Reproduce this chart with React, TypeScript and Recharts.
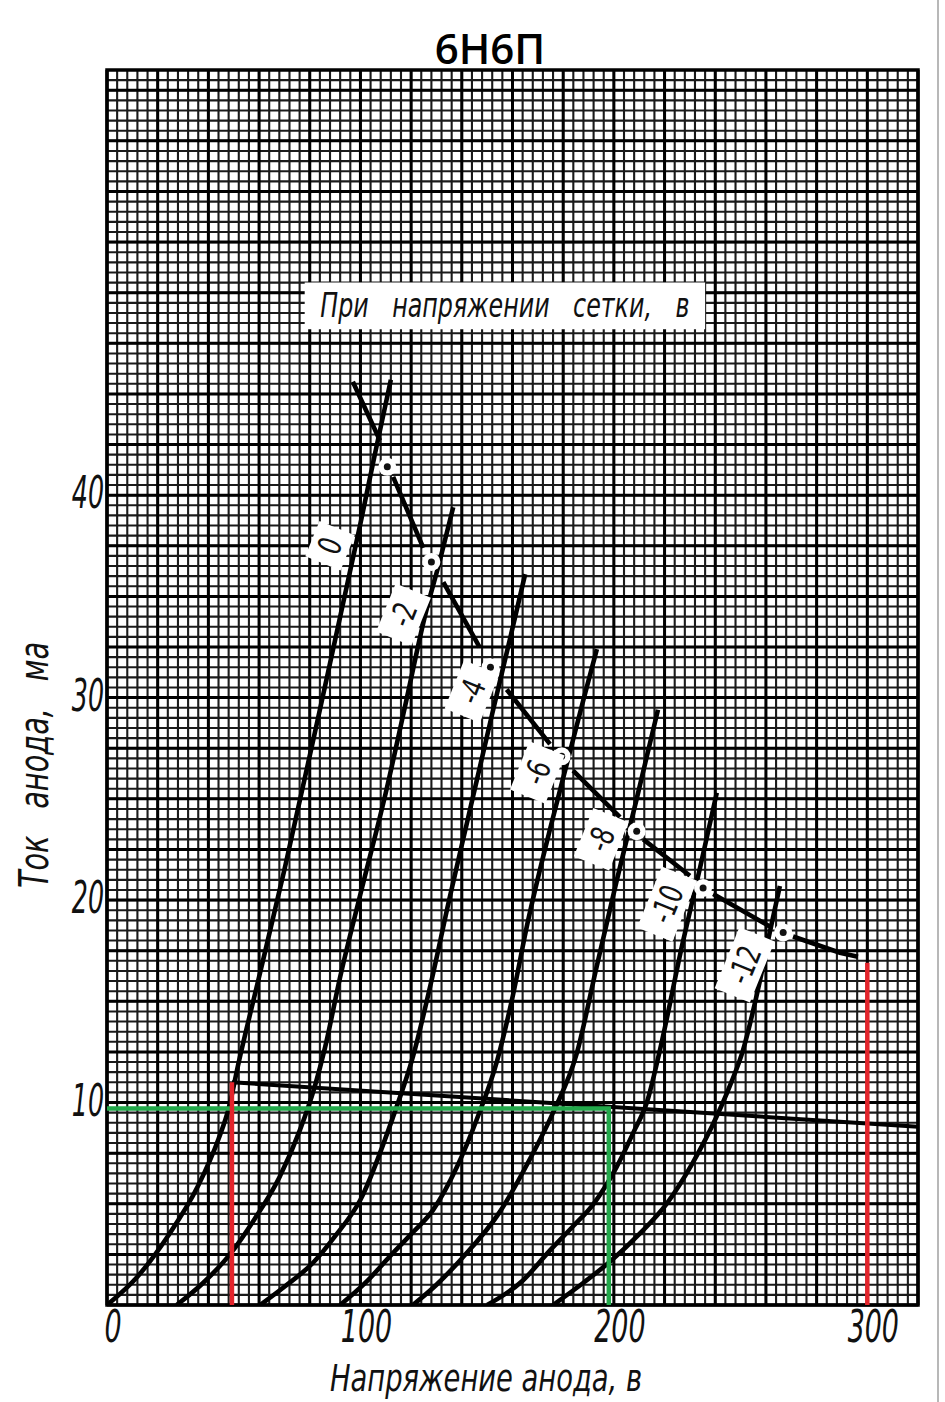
import {
  CartesianGrid,
  Line,
  LineChart,
  ReferenceArea,
  ReferenceDot,
  XAxis,
  YAxis,
} from "recharts";

const NARROW = "'Liberation Sans Narrow', 'DejaVu Sans Condensed', 'Liberation Sans', sans-serif";
const INK = "#111";

const X_MAX = 320;
const Y_MAX = 61;
const X_TICKS = [0, 100, 200, 300];
const Y_TICKS = [10, 20, 30, 40];

// graph paper: fine cell 4 V x 0.5 mA, heavy line every 5 cells
const MINOR_X = Array.from({ length: 81 }, (_, k) => k * 4);
const MINOR_Y = Array.from({ length: 123 }, (_, k) => k * 0.5);
const MAJOR_X = MINOR_X.filter((_, k) => k % 5 === 0);
const MAJOR_Y = MINOR_Y.filter((_, k) => k % 5 === 0);

// anode characteristics [Ua, V ; Ia, mA] for each grid voltage
const ug0 = [[0, 0], [12, 1.4], [24, 3.4], [36, 5.9], [44, 8.2], [48, 9.7], [52, 12.0], [60, 16.2], [70, 21.5], [84, 29.4], [92, 34.0], [100, 38.6], [106, 42.2], [112, 45.7]];
const ug2 = [[27.5, 0], [38, 1.1], [48.5, 2.5], [58, 4.2], [68, 6.3], [76, 8.6], [82, 10.8], [86, 12.7], [92, 16.2], [100, 20.3], [110, 25.3], [118, 29.8], [125.4, 34.0], [131.4, 36.8], [136.6, 39.4]];
const ug4 = [[60.4, 0], [70, 0.9], [81.4, 2.1], [90, 3.4], [100, 5.2], [112.9, 9.3], [120.8, 12.3], [128, 16.0], [135, 20.0], [142, 23.8], [152, 29.2], [159, 32.9], [165, 36.1]];
const ug6 = [[92, 0], [102, 1.1], [111.6, 2.4], [120, 3.5], [128.7, 4.7], [138, 6.8], [146, 9.2], [154, 12.1], [160, 15.2], [166, 18.9], [175, 23.6], [182, 27.0], [188, 29.9], [193.3, 32.4]];
const ug8 = [[120.7, 0], [130, 1.0], [140, 2.3], [155, 4.6], [166, 7.0], [176, 9.5], [185.3, 12.4], [193, 16.6], [201, 20.9], [209, 25.0], [217.4, 29.4]];
const ug10 = [[150, 0], [164, 1.2], [174.8, 2.7], [184, 3.9], [192, 5.0], [201, 6.8], [208, 8.6], [213, 10.0], [218, 12.5], [227, 17.8], [234, 21.6], [240.6, 25.3]];
const ug12 = [[176, 0], [188, 1.1], [199, 2.2], [210, 3.5], [220.8, 5.0], [231, 7.0], [240.5, 9.3], [246, 10.9], [251, 12.6], [254.5, 14.3], [257.6, 16.0], [261.5, 18.4], [265.5, 20.7]];

const CURVES = [ug0, ug2, ug4, ug6, ug8, ug10, ug12];

// curve tags: text, Ua, Ia
const CURVE_TAGS: [string, number, number][] = [
  ["0", 88, 37.5],
  ["-2", 117, 34.1],
  ["-4", 144, 30.3],
  ["-6", 169.8, 26.3],
  ["-8", 195, 23.0],
  ["-10", 221, 19.8],
  ["-12", 251.6, 16.8],
];

// max anode dissipation curve, broken at the marked points (null = gap)
const powerCurve = [
  [97, 45.6], [107.7, 42.7], [109, null],
  [112.9, 40.9], [124.8, 37.4], [126, null],
  [132.7, 35.7], [147, 32.5], [149, null],
  [157.7, 30.4], [174.8, 27.7], [177, null],
  [183.9, 26.4], [202.4, 24.1], [205, null],
  [211.6, 23.0], [230, 21.2], [233, null],
  [239.2, 20.3], [261.5, 18.7], [264, null],
  [270.7, 18.2], [289.2, 17.4], [296.3, 17.2],
];
const POWER_DOTS = [[110.6, 41.4], [128, 36.7], [151.3, 31.5], [179.4, 27.1], [209, 23.4], [235.2, 20.6], [266.8, 18.4]];

// load line and the coloured construction lines
const loadLine = [[49.3, 11.0], [320, 8.8]];
const redLeft = [[49.3, 11.0], [49.3, 0]];
const redRight = [[300, 16.9], [300, 0]];
const greenLine = [[0, 9.7], [198, 9.7], [198, 0]];

const HEADING = { text: "При напряжении сетки, в", x1: 78, x2: 236, y1: 48.2, y2: 50.5 };

const pts = (arr: (number | null)[][]) => arr.map(([v, i]) => ({ v, i }));

const gridGen = (vals: number[], axis: "x" | "y") => (props: any) => {
  const ax = axis === "x" ? props.xAxis : props.yAxis;
  const s = ax?.scale;
  if (typeof s === "function") return vals.map((v) => s(v));
  const o = props.offset;
  return axis === "x"
    ? vals.map((v) => o.left + (v / X_MAX) * o.width)
    : vals.map((v) => o.top + o.height - (v / Y_MAX) * o.height);
};

// narrow italic lettering, squeezed horizontally like the drafting font
function Narrow({ x, y, sx = 0.7, rotate = 0, anchor = "middle", size, children, ...rest }: any) {
  return (
    <g transform={`translate(${x},${y}) rotate(${rotate}) scale(${sx},1)`}>
      <text x={0} y={0} textAnchor={anchor} fontFamily={NARROW} fontStyle="italic" fontSize={size} fill={INK} {...rest}>
        {children}
      </text>
    </g>
  );
}

function XTick({ x, payload }: any) {
  return (
    <Narrow x={x + 6} y={1342} size={44} sx={0.68}>
      {payload.value}
    </Narrow>
  );
}

function YTick({ y, payload }: any) {
  return (
    <Narrow x={104} y={y + 13} size={44} sx={0.64} anchor="end">
      {payload.value}
    </Narrow>
  );
}

function XTitle() {
  return (
    <Narrow x={486} y={1391} size={38} sx={0.8}>
      Напряжение анода, в
    </Narrow>
  );
}

function YTitle() {
  return (
    <Narrow x={48} y={765} rotate={-90} size={40} sx={0.8} wordSpacing={22}>
      Ток анода, ма
    </Narrow>
  );
}

function HeadingLabel({ viewBox }: any) {
  const cx = viewBox.x + viewBox.width / 2;
  const cy = viewBox.y + viewBox.height / 2;
  return (
    <Narrow x={cx} y={cy + 11} size={33} sx={0.8} wordSpacing={20}>
      {HEADING.text}
    </Narrow>
  );
}

function CurveTag({ cx, cy, text }: any) {
  const w = 24 + text.length * 14;
  return (
    <g transform={`translate(${cx},${cy}) rotate(-68)`}>
      <rect x={-w / 2} y={-19} width={w} height={38} fill="#fff" />
      <g transform="scale(0.8,1)">
        <text x={0} y={11} textAnchor="middle" fontFamily={NARROW} fontSize={32} fill={INK}>
          {text}
        </text>
      </g>
    </g>
  );
}

function PowerDot({ cx, cy }: any) {
  return (
    <g>
      <circle cx={cx} cy={cy} r={9} fill="#fff" />
      <circle cx={cx} cy={cy} r={3.5} fill={INK} />
    </g>
  );
}

export default function App() {
  return (
    <div style={{ position: "relative", width: 945, height: 1402, background: "#fff" }}>
      <style>{"body{margin:0;background:#fff}"}</style>
      <div
        style={{
          position: "absolute",
          left: 390,
          top: 27,
          width: 200,
          textAlign: "center",
          fontFamily: "'Open Sans', 'Noto Sans', sans-serif",
          fontWeight: 600,
          fontSize: 42,
          lineHeight: 1,
          color: "#000",
        }}
      >
        6Н6П
      </div>
      <LineChart width={945} height={1402} margin={{ top: 70, right: 27, bottom: 0, left: 0 }}>
        <CartesianGrid
          stroke="#1a1a1a"
          strokeWidth={2.1}
          fill="#fff"
          verticalCoordinatesGenerator={gridGen(MINOR_X, "x")}
          horizontalCoordinatesGenerator={gridGen(MINOR_Y, "y")}
        />
        <CartesianGrid
          stroke="#000"
          strokeWidth={3}
          verticalCoordinatesGenerator={gridGen(MAJOR_X, "x")}
          horizontalCoordinatesGenerator={gridGen(MAJOR_Y, "y")}
        />
        <XAxis
          type="number"
          dataKey="v"
          domain={[0, X_MAX]}
          ticks={X_TICKS}
          allowDataOverflow
          axisLine={false}
          tickLine={false}
          height={97}
          tick={<XTick />}
          label={<XTitle />}
        />
        <YAxis
          type="number"
          dataKey="i"
          domain={[0, Y_MAX]}
          ticks={Y_TICKS}
          allowDataOverflow
          axisLine={false}
          tickLine={false}
          width={107}
          tick={<YTick />}
          label={<YTitle />}
        />
        <ReferenceArea x1={0} x2={X_MAX} y1={0} y2={Y_MAX} fill="none" stroke="#000" strokeWidth={3.5} />
        <ReferenceArea
          x1={HEADING.x1}
          x2={HEADING.x2}
          y1={HEADING.y1}
          y2={HEADING.y2}
          fill="#fff"
          fillOpacity={1}
          stroke="none"
          label={<HeadingLabel />}
        />
        {CURVES.map((c, k) => (
          <Line
            key={k}
            data={pts(c)}
            dataKey="i"
            type="monotone"
            stroke="#000"
            strokeWidth={4.6}
            dot={false}
            activeDot={false}
            isAnimationActive={false}
          />
        ))}
        <Line data={pts(powerCurve)} dataKey="i" type="linear" stroke="#000" strokeWidth={4.6} dot={false} activeDot={false} connectNulls={false} isAnimationActive={false} />
        <Line data={pts(loadLine)} dataKey="i" type="linear" stroke="#000" strokeWidth={4} dot={false} activeDot={false} isAnimationActive={false} />
        <Line data={pts(greenLine)} dataKey="i" type="linear" stroke="#22a84a" strokeWidth={4.5} dot={false} activeDot={false} isAnimationActive={false} />
        <Line data={pts(redLeft)} dataKey="i" type="linear" stroke="#e3242b" strokeWidth={4.5} dot={false} activeDot={false} isAnimationActive={false} />
        <Line data={pts(redRight)} dataKey="i" type="linear" stroke="#e3242b" strokeWidth={4.5} dot={false} activeDot={false} isAnimationActive={false} />
        {POWER_DOTS.map(([v, i], k) => (
          <ReferenceDot key={`d${k}`} x={v} y={i} r={3} ifOverflow="visible" shape={(p: any) => <PowerDot {...p} />} />
        ))}
        {CURVE_TAGS.map(([t, v, i]) => (
          <ReferenceDot key={t} x={v} y={i} r={3} ifOverflow="visible" shape={(p: any) => <CurveTag {...p} text={t} />} />
        ))}
      </LineChart>
      <div style={{ position: "absolute", left: 937, top: 0, width: 2, height: 1402, background: "#b8b8b8" }} />
    </div>
  );
}
